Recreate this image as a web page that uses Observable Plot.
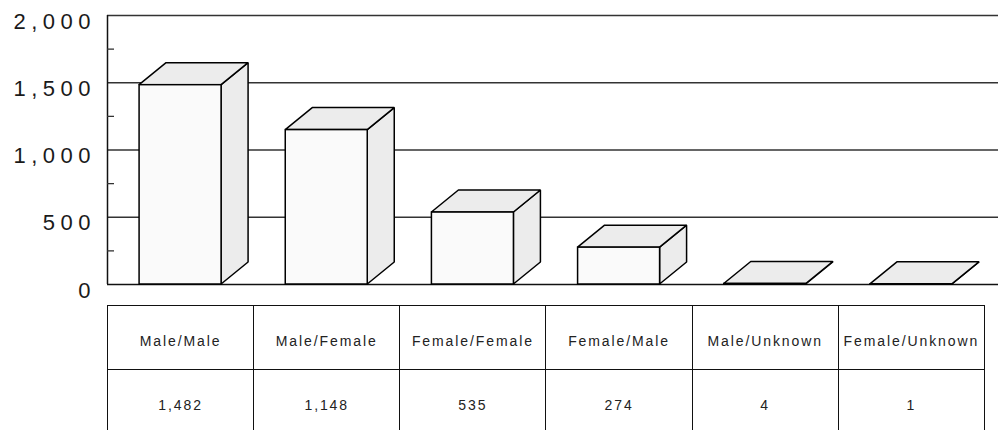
<!DOCTYPE html>
<html>
<head>
<meta charset="utf-8">
<script src="https://cdn.jsdelivr.net/npm/d3@7"></script>
<script src="https://cdn.jsdelivr.net/npm/@observablehq/plot@0.6"></script>
<style>
  html, body { margin: 0; padding: 0; background: #fff; overflow: hidden; }
  #wrap { position: relative; width: 998px; height: 430px; }
  #chart svg { display: block; }
  #chart [aria-label="y-axis tick label"] text { letter-spacing: 5.5px; }
  #tbl { position: absolute; left: 107px; top: 305px; border-collapse: collapse; table-layout: fixed;
         font-family: "Liberation Sans", Arial, sans-serif; font-size: 14px; color: #222; }
  #tbl td { border: 1.5px solid #111; text-align: center; height: 54.5px; padding: 8px 0 0 0; letter-spacing: 1.9px; white-space: nowrap; overflow: visible; }
</style>
</head>
<body>
<div id="wrap">
  <div id="chart"></div>
  <table id="tbl"></table>
</div>
<script>
const categories = ["Male/Male", "Male/Female", "Female/Female", "Female/Male", "Male/Unknown", "Female/Unknown"];
const counts = [1482, 1148, 535, 274, 4, 1];
const yTicks = [0, 500, 1000, 1500, 2000];
const minorTicks = [250, 750, 1250, 1750];
const gridValues = [500, 1000, 1500, 2000];

// layout / style constants
const W = 998, H = 304, mTop = 15, mBottom = 20, xLeft = 107, xRight = 984;
const yMax = 2000;
const barFrac = 0.561;        // front face width as fraction of band
const depthPx = [27, 22];     // 3D depth offset in pixels (dx, dy)
const pxPerX = (xRight - xLeft) / categories.length;
const pxPerY = (H - mTop - mBottom) / yMax;
const dX = depthPx[0] / pxPerX, dY = depthPx[1] / pxPerY;

const bars = categories.map((c, i) => ({
  k: i, c, v: counts[i],
  L: i + 0.5 - barFrac / 2, R: i + 0.5 + barFrac / 2
}));
const sideFaces = bars.flatMap(b => [
  {k: b.k, x: b.R, y1: 0, y2: b.v},
  {k: b.k, x: b.R + dX, y1: dY, y2: b.v + dY}
]);
const topFaces = bars.flatMap(b => [
  {k: b.k, y: b.v, x1: b.L, x2: b.R},
  {k: b.k, y: b.v + dY, x1: b.L + dX, x2: b.R + dX}
]);

const faceStyle = {stroke: "#000", strokeWidth: 1.5, strokeLinejoin: "miter"};

const chart = Plot.plot({
  width: W, height: H,
  marginTop: mTop, marginBottom: mBottom, marginLeft: xLeft, marginRight: 0,
  style: {fontFamily: "'Liberation Sans', Arial, sans-serif", color: "#222", background: "#fff"},
  x: {domain: [0, categories.length], range: [xLeft, xRight], axis: null},
  y: {domain: [0, yMax], axis: null},
  marks: [
    Plot.ruleY(gridValues, {stroke: "#333", strokeWidth: 1.3}),
    Plot.ruleY([0], {stroke: "#111", strokeWidth: 1.5}),
    Plot.ruleX([0], {stroke: "#111", strokeWidth: 1.5}),
    Plot.axisY({ticks: minorTicks, tickSize: -7, tickFormat: () => "", stroke: "#333", strokeWidth: 1.3}),
    Plot.axisY({ticks: yTicks, tickSize: 0, tickPadding: 11.5, dy: 6, tickFormat: d3.format(","), fontSize: 22, fill: "#1a1a1a"}),
    Plot.areaY(sideFaces, {x: "x", y1: "y1", y2: "y2", z: "k", fill: "#ececec", ...faceStyle}),
    Plot.areaX(topFaces, {y: "y", x1: "x1", x2: "x2", z: "k", fill: "#ececec", ...faceStyle}),
    Plot.rectY(bars, {x1: "L", x2: "R", y1: 0, y2: "v", fill: "#fafafa", ...faceStyle})
  ]
});
document.getElementById("chart").appendChild(chart);

// data table below the chart
const tbl = document.getElementById("tbl");
const colgroup = document.createElement("colgroup");
categories.forEach(() => {
  const col = document.createElement("col");
  col.style.width = pxPerX + "px";
  colgroup.appendChild(col);
});
tbl.appendChild(colgroup);
tbl.style.width = (xRight - xLeft) + "px";
[categories, counts.map(d3.format(","))].forEach(row => {
  const tr = document.createElement("tr");
  row.forEach(t => {
    const td = document.createElement("td");
    td.textContent = t;
    tr.appendChild(td);
  });
  tbl.appendChild(tr);
});
</script>
</body>
</html>
